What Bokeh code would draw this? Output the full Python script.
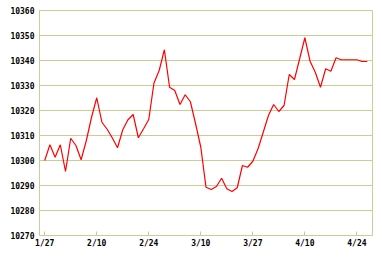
from bokeh.plotting import figure
from bokeh.models import ColumnDataSource, FixedTicker, Range1d
from bokeh.embed import file_html
from bokeh.resources import INLINE

# Data (trading-day index -> value)
values = [
    10300.0, 10306.3, 10301.3, 10306.3, 10295.6, 10308.9, 10306.0, 10300.3, 10308.0, 10317.3,
    10325.1, 10315.3, 10312.5, 10309.0, 10305.1, 10312.3, 10316.3, 10318.4, 10309.1, 10312.7,
    10316.4, 10331.0, 10336.0, 10344.3, 10329.3, 10328.0, 10322.4, 10326.3, 10323.5, 10314.7,
    10305.3, 10289.3, 10288.4, 10289.6, 10292.9, 10288.7, 10287.6, 10289.1, 10298.0, 10297.3,
    10299.7, 10304.7, 10311.3, 10318.0, 10322.4, 10319.6, 10322.0, 10334.4, 10332.4, 10340.7,
    10349.1, 10339.7, 10335.3, 10329.3, 10336.7, 10335.7, 10341.1, 10340.3, 10340.3, 10340.3,
    10340.3, 10339.6, 10339.6,
]
index = list(range(len(values)))
tick_positions = [0, 10, 20, 30, 40, 50, 60]
tick_labels = ["1/27", "2/10", "2/24", "3/10", "3/27", "4/10", "4/24"]
y_ticks = [10270, 10280, 10290, 10300, 10310, 10320, 10330, 10340, 10350, 10360]

GRID = "#cccc99"
FONT = "DejaVu Sans Mono"

source = ColumnDataSource(data=dict(x=index, y=values))

p = figure(width=382, height=258, output_backend="svg", toolbar_location=None,
           x_range=Range1d(-1, 63), y_range=Range1d(10270, 10360),
           min_border_left=39, min_border_right=10, min_border_top=10, min_border_bottom=23)

p.line("x", "y", source=source, line_color="#ff0000", line_width=1.2)

p.background_fill_color = "white"
p.border_fill_color = "white"
p.outline_line_color = GRID
p.outline_line_width = 1

# grids
p.xgrid.grid_line_color = None
p.ygrid.grid_line_color = GRID
p.ygrid.grid_line_width = 1

# x axis
xa = p.xaxis[0]
xa.ticker = FixedTicker(ticks=tick_positions)
xa.major_label_overrides = {t: l for t, l in zip(tick_positions, tick_labels)}
xa.axis_line_color = GRID
xa.major_tick_line_color = GRID
xa.major_tick_in = 4
xa.major_tick_out = 0
xa.minor_tick_line_color = None
xa.major_label_standoff = 3
xa.major_label_text_font = FONT
xa.major_label_text_font_style = "bold"
xa.major_label_text_font_size = "8px"
xa.major_label_text_color = "black"

# y axis
ya = p.yaxis[0]
ya.ticker = FixedTicker(ticks=y_ticks)
ya.axis_line_color = GRID
ya.major_tick_line_color = None
ya.major_tick_in = 0
ya.major_tick_out = 0
ya.minor_tick_line_color = None
ya.major_label_standoff = 5
ya.major_label_text_font = FONT
ya.major_label_text_font_style = "bold"
ya.major_label_text_font_size = "8px"
ya.major_label_text_color = "black"

open("out.html", "w").write(file_html(p, INLINE))
